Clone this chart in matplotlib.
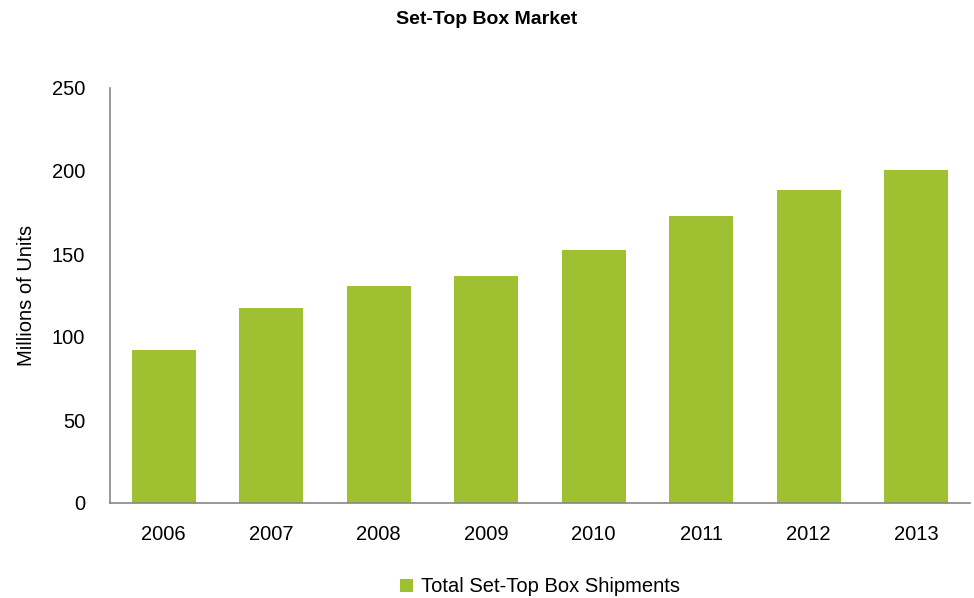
import matplotlib
matplotlib.use("Agg")
import matplotlib.pyplot as plt

# Data
years = ["2006", "2007", "2008", "2009", "2010", "2011", "2012", "2013"]
shipments = [92, 117.5, 131, 137, 152.5, 173, 188.5, 200.5]
y_ticks = [0, 50, 100, 150, 200, 250]

BAR_COLOR = "#9FC131"
AXIS_COLOR = "#868686"

plt.rcParams["font.family"] = ["Liberation Sans", "DejaVu Sans"]

fig = plt.figure(figsize=(9.74, 5.98), dpi=100)
ax = fig.add_axes([110 / 974, 95 / 598, 860 / 974, 415 / 598])

x = list(range(len(years)))
ax.bar(x, shipments, width=0.595, color=BAR_COLOR, label="Total Set-Top Box Shipments", zorder=2)

ax.set_xlim(-0.5, len(years) - 0.5)
ax.set_ylim(0, 250)
ax.set_xticks(x)
ax.set_xticklabels(years)
ax.set_yticks(y_ticks)

ax.tick_params(axis="both", length=0, labelsize=14.5, colors="black")
ax.tick_params(axis="y", pad=18)
ax.tick_params(axis="x", pad=16)

for side in ["top", "right"]:
    ax.spines[side].set_visible(False)
for side in ["left", "bottom"]:
    ax.spines[side].set_color(AXIS_COLOR)
    ax.spines[side].set_linewidth(1.2)

ax.set_ylabel("Millions of Units", fontsize=14.5, labelpad=11)

fig.text(0.5, 0.968, "Set-Top Box Market", ha="center", va="center",
         fontsize=14, fontweight="bold")

fig.legend(loc="center", bbox_to_anchor=(540 / 974, 1 - 587 / 598), frameon=False,
           fontsize=14.5, handlelength=0.65, handleheight=0.65, handletextpad=0.4)

fig.savefig("out.png", dpi=100)
